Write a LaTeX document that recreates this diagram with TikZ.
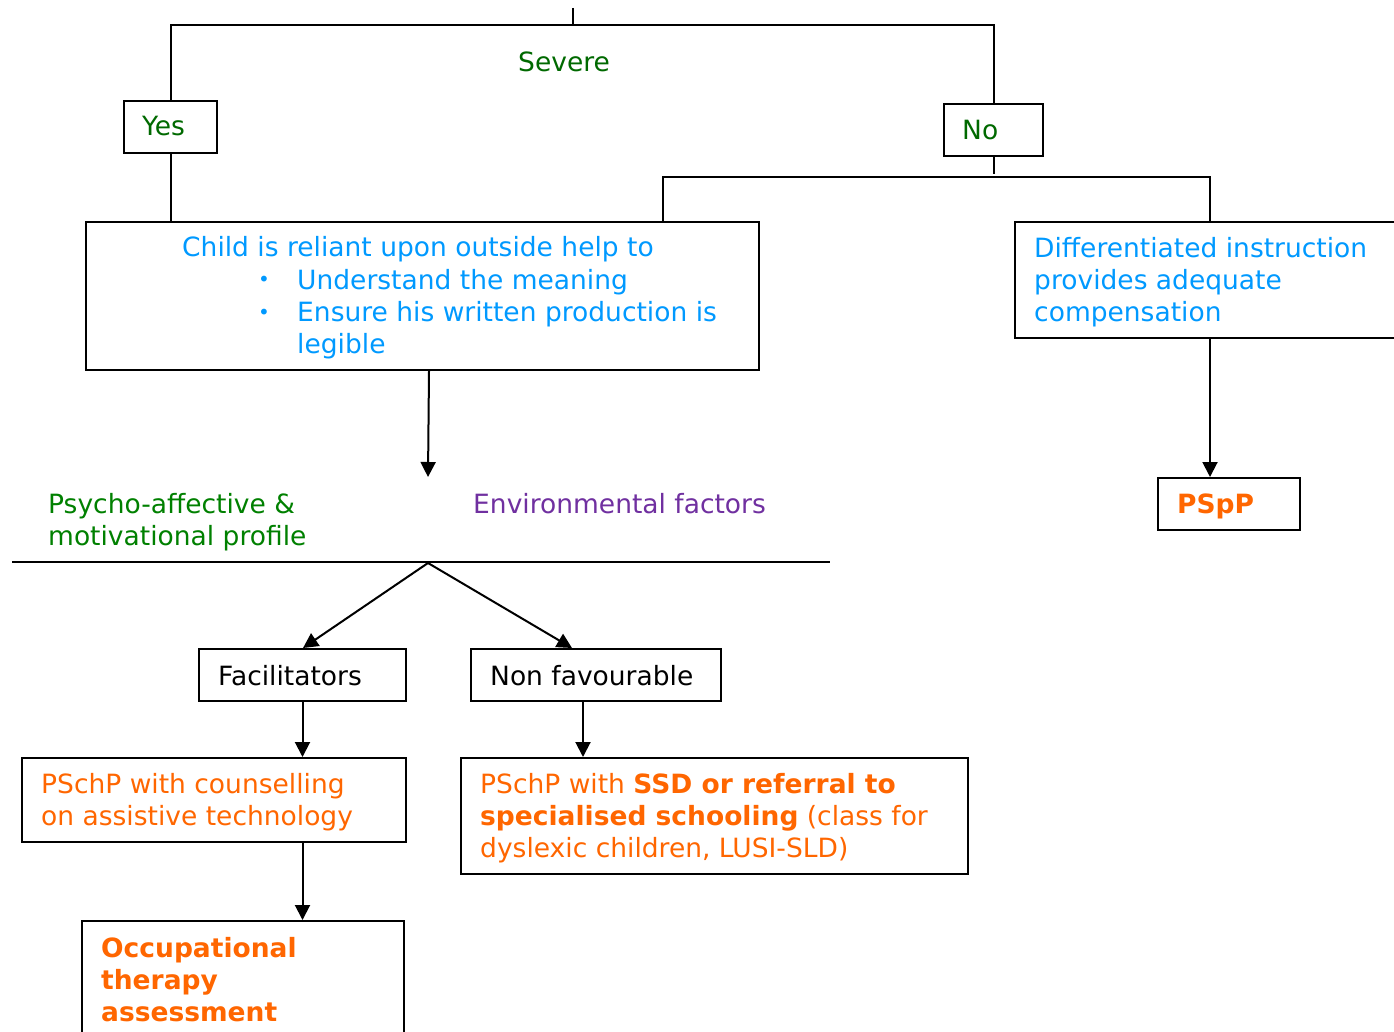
\documentclass[tikz,border=0pt]{standalone}
\usepackage{fontspec}
\setmainfont{DejaVu Sans}
\usetikzlibrary{arrows.meta,calc}
\definecolor{dgreen}{RGB}{0,105,0}
\definecolor{mgreen}{RGB}{0,128,0}
\definecolor{lblue}{RGB}{0,153,255}
\definecolor{dorange}{RGB}{255,102,0}
\definecolor{dpurple}{RGB}{112,48,160}
\begin{document}
\begin{tikzpicture}[x=1pt,y=-1pt,
  box/.style={draw, line width=2pt, inner sep=0pt, anchor=north west},
  conn/.style={line width=2pt},
  arr/.style={line width=2pt, -{Triangle[length=15pt,width=15pt]}},
  txt/.style={anchor=base west, inner sep=0pt, align=left,
    font=\fontsize{26.5}{32}\selectfont},
  bul/.style={anchor=base west, inner sep=0pt, text=lblue,
    font=\fontsize{20}{32}\selectfont}]
\useasboundingbox (0,0) rectangle (1394,1032);

% boxes
\node[box, minimum width=93, minimum height=52] (yes) at (123,100) {};
\node[box, minimum width=99, minimum height=52] (no) at (943,103) {};
\node[box, minimum width=673, minimum height=148] (child) at (85,221) {};
\node[box, minimum width=390, minimum height=116] (diff) at (1014,221) {};
\node[box, minimum width=142, minimum height=52] (pspp) at (1157,477) {};
\node[box, minimum width=207, minimum height=52] (facil) at (198,648) {};
\node[box, minimum width=250, minimum height=52] (nonfav) at (470,648) {};
\node[box, minimum width=384, minimum height=84] (couns) at (21,757) {};
\node[box, minimum width=507, minimum height=116] (ssd) at (460,757) {};
\node[box, minimum width=322, minimum height=130] (occ) at (81,920) {};

% texts (base = baseline of the last line)
\node[txt, text=dgreen] (tsevere) at (518,72) {Severe};
\node[txt, text=dgreen] (tyes) at (142,136) {Yes};
\node[txt, text=dgreen] (tno) at (962,140) {No};
\node[txt, text=lblue] (tchild) at (182,257) {Child is reliant upon outside help to};
\node[bul] (b1) at (258,287) {•};
\node[bul] (b2) at (258,319) {•};
\node[txt, text=lblue] (tlist) at (297,353) {Understand the meaning\\Ensure his written production is\\legible};
\node[txt, text=lblue] (tdiff) at (1034,321) {Differentiated instruction\\provides adequate\\compensation};
\node[txt, text=dorange, font=\fontsize{26.5}{32}\selectfont\bfseries] (tpspp) at (1177,513) {PSpP};
\node[txt, text=mgreen] (tpsy) at (48,545) {Psycho-affective \&\\motivational profile};
\node[txt, text=dpurple] (tenv) at (473,513) {Environmental factors};
\node[txt] (tfacil) at (218,685) {Facilitators};
\node[txt] (tnonfav) at (490,685) {Non favourable};
\node[txt, text=dorange] (tcouns) at (41,825) {PSchP with counselling\\on assistive technology};
\node[txt, text=dorange] (tssd) at (480,857) {PSchP with \textbf{SSD or referral to}\\\textbf{specialised schooling} (class for\\dyslexic children, LUSI-SLD)};
\node[txt, text=dorange, font=\fontsize{26.5}{32}\selectfont\bfseries] (tocc) at (101,1021) {Occupational\\therapy\\assessment};

% coordinates
\coordinate (topin) at (573,8);
\coordinate (topj) at (573,25);
\coordinate (nohl) at (992,177);
\coordinate (hl1) at (12,562);
\coordinate (hl2) at (830,562);
\coordinate (split) at (428,563);
\coordinate (childend) at (428,477);
\coordinate (childout) at ($(child.south)+(6.5,0)$);
\coordinate (nfout) at ($(nonfav.south)+(-13,0)$);
\coordinate (facin) at ($(facil.north west)+(105,0)$);
\coordinate (nfin) at ($(nonfav.north west)+(102,0)$);

% connectors
\draw[conn] (topin) -- (topj);
\draw[conn] (yes.north) -- (yes.north |- topj) -- (no.north |- topj) -- (no.north);
\draw[conn] (yes.south) -- (yes.south |- child.north);
\draw[conn] (no.south) -- ++(0,17);
\draw[conn] (child.north -| 663,0) -- (663,177) -- (diff.north |- nohl) -- (diff.north);
\draw[arr] (childout) -- (childend);
\draw[arr] (diff.south) -- (diff.south |- pspp.north);
\draw[conn] (hl1) -- (hl2);
\draw[arr] (split) -- (facin);
\draw[arr] (split) -- (nfin);
\draw[arr] (facil.south) -- (facil.south |- couns.north);
\draw[arr] (nfout) -- (nfout |- ssd.north);
\draw[arr] (couns.south -| facil.south) -- (facil.south |- occ.north);
\end{tikzpicture}
\end{document}
